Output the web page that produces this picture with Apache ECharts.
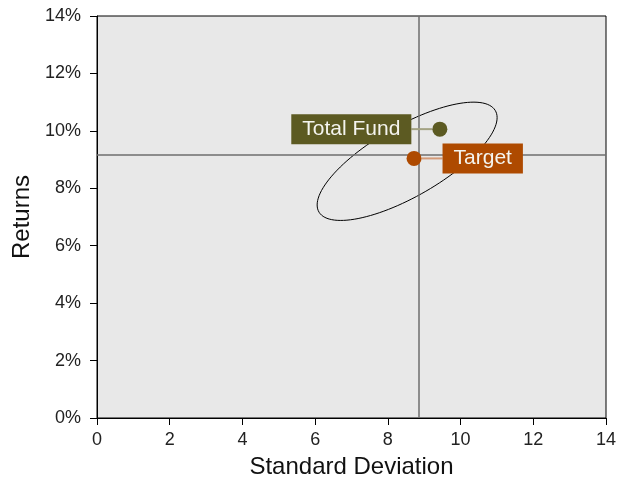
<!DOCTYPE html>
<html><head><meta charset="utf-8">
<script src="https://cdn.jsdelivr.net/npm/echarts@6/dist/echarts.min.js"></script>
<style>html,body{margin:0;padding:0;background:#fff}#c{width:630px;height:479px}</style>
</head><body><div id="c"></div>
<script>
// Data
const xTicks = [0, 2, 4, 6, 8, 10, 12, 14];
const yTicks = [0, 2, 4, 6, 8, 10, 12, 14]; // percent
const pointNames = ['Total Fund', 'Target'];
const pointStdDev = [9.43, 8.72];
const pointReturns = [10.06, 9.04];
const refStdDev = [8.86];
const refReturn = [9.18];
const ellipseCenter = [8.53, 8.94];
const ellipseAxisA = [2.475, 1.52];
const ellipseAxisB = [0.0, 1.39];

const fontFamily = '"Liberation Sans", Arial, sans-serif';
const chart = echarts.init(document.getElementById('c'), null, {renderer: 'canvas'});

function pointSeries(i, color, lineColor, pos, dx) {
  return {
    type: 'scatter',
    z: 5,
    data: [[pointStdDev[i], pointReturns[i]]],
    symbol: 'circle',
    symbolSize: 15,
    itemStyle: {color: color, opacity: 1},
    label: {
      show: true,
      formatter: pointNames[i],
      position: pos,
      distance: 1,
      color: '#f4f4ee',
      fontFamily: fontFamily,
      fontSize: 21,
      backgroundColor: color,
      padding: [4, 11, 4, 11],
      lineHeight: 22
    },
    labelLayout: {dx: dx},
    labelLine: {show: true, lineStyle: {color: lineColor, width: 2}},
    emphasis: {disabled: true}
  };
}

const option = {
  animation: false,
  grid: {left: 97, right: 24, top: 16, bottom: 61, outerBoundsMode: 'none', containLabel: false, show: true, backgroundColor: '#e8e8e8', borderColor: '#000', borderWidth: 1},
  xAxis: {
    type: 'value', min: 0, max: 14, interval: 2,
    name: 'Standard Deviation', nameLocation: 'middle', nameGap: 37,
    nameTextStyle: {fontFamily: fontFamily, fontSize: 24, color: '#111'},
    axisLine: {show: true, lineStyle: {color: '#000', width: 1}},
    axisTick: {show: true, length: 7, lineStyle: {color: '#000'}},
    axisLabel: {fontFamily: fontFamily, fontSize: 18, color: '#222', margin: 13, formatter: v => xTicks.includes(v) ? String(v) : ''},
    splitLine: {show: false}
  },
  yAxis: {
    type: 'value', min: 0, max: 14, interval: 2,
    name: 'Returns', nameLocation: 'middle', nameGap: 56, nameRotate: 90,
    nameTextStyle: {fontFamily: fontFamily, fontSize: 24, color: '#111'},
    axisLine: {show: true, lineStyle: {color: '#000', width: 1}},
    axisTick: {show: true, length: 7, lineStyle: {color: '#000'}},
    axisLabel: {fontFamily: fontFamily, fontSize: 18, color: '#222', margin: 16, formatter: v => yTicks.includes(v) ? v + '%' : ''},
    splitLine: {show: false}
  },
  series: [
    {
      type: 'line', data: [], z: 1,
      markLine: {
        silent: true, symbol: 'none', label: {show: false},
        lineStyle: {color: '#6e6e6e', width: 1.5, type: 'solid'},
        data: [{xAxis: refStdDev[0]}, {yAxis: refReturn[0]}]
      }
    },
    {
      type: 'custom', z: 3, silent: true,
      data: [[ellipseCenter[0], ellipseCenter[1]]],
      renderItem: function (params, api) {
        const pts = [];
        const n = 120;
        for (let k = 0; k < n; k++) {
          const t = 2 * Math.PI * k / n;
          const c = Math.cos(t), s = Math.sin(t);
          pts.push(api.coord([
            ellipseCenter[0] + ellipseAxisA[0] * c + ellipseAxisB[0] * s,
            ellipseCenter[1] + ellipseAxisA[1] * c + ellipseAxisB[1] * s
          ]));
        }
        return {type: 'polygon', shape: {points: pts}, style: {fill: 'none', stroke: '#000', lineWidth: 1}};
      }
    },
    pointSeries(0, '#5c5a22', '#a3a282', 'left', -20),
    pointSeries(1, '#ae4a00', '#d49a78', 'right', 20)
  ]
};
chart.setOption(option);
</script>
</body></html>
